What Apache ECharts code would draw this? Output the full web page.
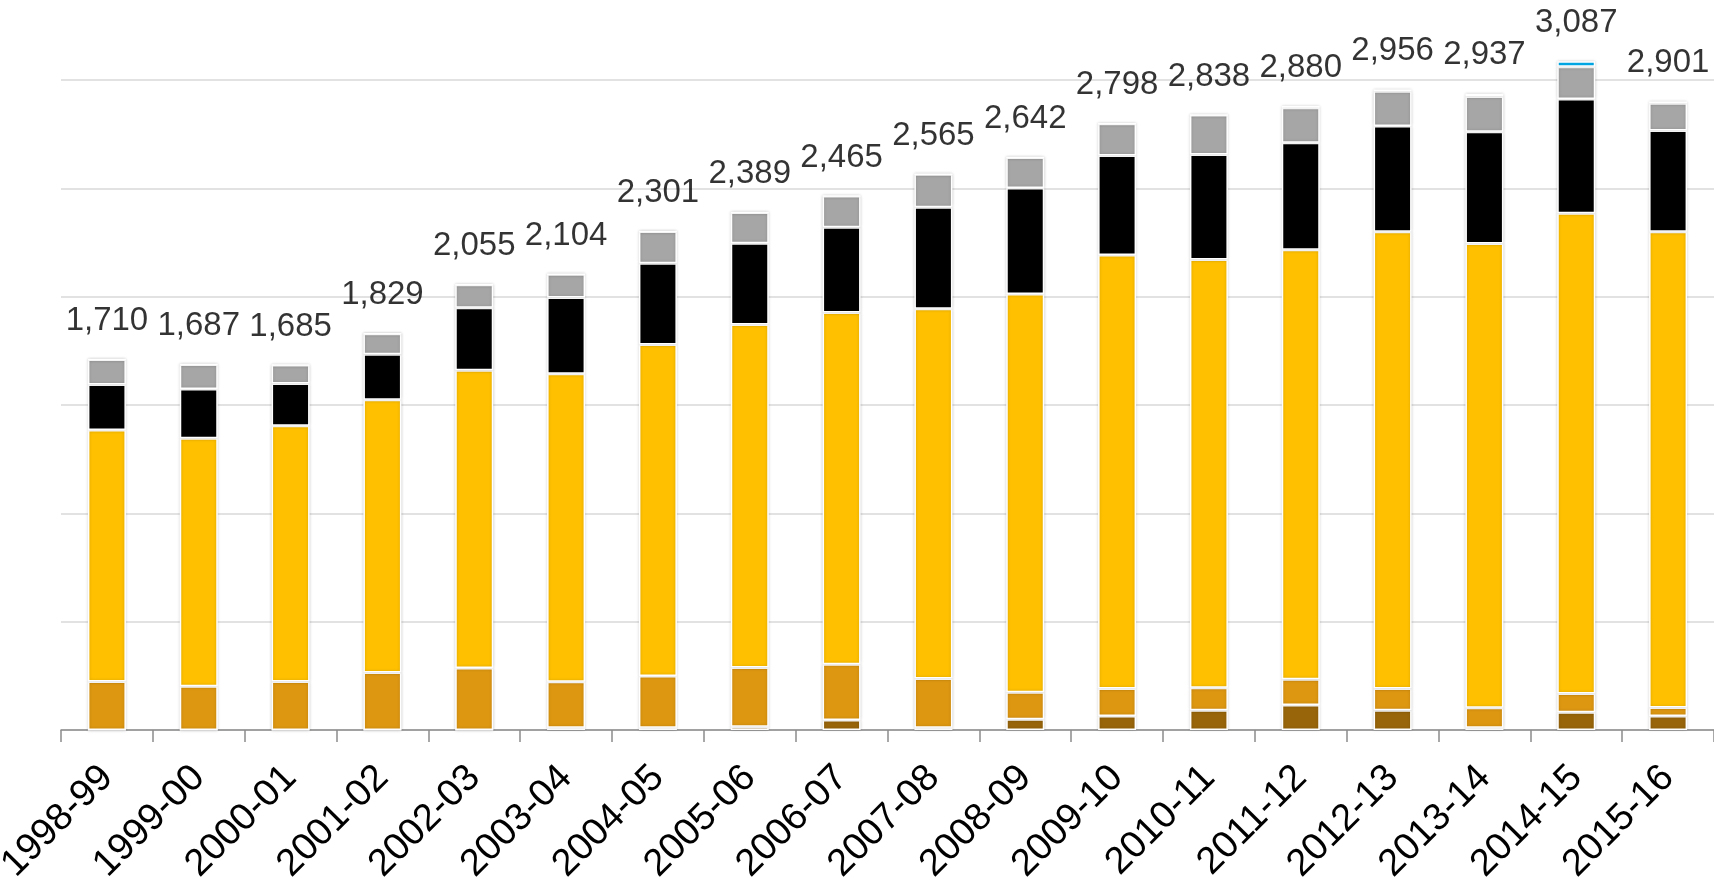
<!DOCTYPE html>
<html>
<head>
<meta charset="utf-8">
<title>Stacked totals by year</title>
<script src="https://cdn.jsdelivr.net/npm/echarts@6/dist/echarts.min.js"></script>
<style>
  html, body { margin: 0; padding: 0; background: #ffffff; }
  #chart { width: 1714px; height: 880px; }
</style>
</head>
<body>
<div id="chart"></div>
<script>
// Financial years on the category axis
const years = ['1998-99', '1999-00', '2000-01', '2001-02', '2002-03', '2003-04',
  '2004-05', '2005-06', '2006-07', '2007-08', '2008-09', '2009-10',
  '2010-11', '2011-12', '2012-13', '2013-14', '2014-15', '2015-16'];

// Stack components, bottom to top
const brownVals  = [0, 0, 0, 0, 0, 10, 10, 15, 46, 10, 50, 65, 91, 115, 91, 10, 82, 65];
const orangeVals = [224, 202, 224, 265, 286, 213, 239, 273, 258, 228, 124, 126, 104, 119, 100, 93, 87, 39];
const goldVals   = [1161, 1144, 1180, 1259, 1374, 1421, 1530, 1584, 1623, 1706, 1838, 2001, 1977, 1983, 2109, 2142, 2216, 2196];
const blackVals  = [210, 228, 195, 210, 289, 352, 375, 375, 393, 469, 490, 460, 484, 493, 488, 516, 527, 467];
const grayVals   = [115, 113, 86, 95, 106, 108, 147, 142, 145, 152, 140, 146, 182, 162, 160, 163, 149, 126];
const blueVals   = [0, 0, 0, 0, 0, 0, 0, 0, 0, 0, 0, 0, 0, 8, 8, 13, 26, 8];

// Year totals shown above each column
const totals = [1710, 1687, 1685, 1829, 2055, 2104, 2301, 2389, 2465, 2565, 2642, 2798, 2838, 2880, 2956, 2937, 3087, 2901];

const chart = echarts.init(document.getElementById('chart'), null, { renderer: 'canvas' });

function stackSeries(name, values, color) {
  return {
    name: name,
    type: 'bar',
    stack: 'total',
    barWidth: 38,
    clip: false,
    data: values,
    itemStyle: {
      color: color,
      borderColor: '#ffffff',
      borderWidth: 1.5,
      shadowBlur: 3,
      shadowColor: 'rgba(0,0,0,0.18)'
    }
  };
}

const fontFamily = '"Liberation Sans", Arial, sans-serif';

chart.setOption({
  animation: false,
  backgroundColor: '#ffffff',
  grid: { left: 61, right: 0, top: 80, bottom: 150, containLabel: false, outerBoundsMode: 'none' },
  xAxis: {
    type: 'category',
    data: years,
    boundaryGap: true,
    axisLine: { show: true, lineStyle: { color: '#8c8c8c', width: 1.5 } },
    axisTick: { show: true, length: 12, lineStyle: { color: '#8c8c8c', width: 1.5 } },
    axisLabel: {
      interval: 0,
      rotate: 45,
      margin: 42,
      align: 'right',
      verticalAlign: 'middle',
      fontSize: 38,
      color: '#000000',
      fontFamily: fontFamily
    }
  },
  yAxis: {
    type: 'value',
    min: 0,
    max: 3000,
    interval: 500,
    axisLine: { show: false },
    axisTick: { show: false },
    axisLabel: { show: false },
    splitLine: { show: true, lineStyle: { color: '#d9d9d9', width: 1.5 } }
  },
  series: [
    stackSeries('brown', brownVals, '#98650a'),
    stackSeries('orange', orangeVals, '#dd9711'),
    stackSeries('gold', goldVals, '#ffc000'),
    stackSeries('black', blackVals, '#000000'),
    stackSeries('gray', grayVals, '#a6a6a6'),
    stackSeries('blue', blueVals, '#00b0f0'),
    {
      name: 'total',
      type: 'scatter',
      data: totals,
      symbolSize: 0,
      clip: false,
      z: 10,
      label: {
        show: true,
        position: 'top',
        distance: 22,
        fontSize: 33,
        color: '#000000',
        fontFamily: fontFamily,
        formatter: function (p) { return p.value.toLocaleString('en-US'); }
      }
    }
  ]
});
</script>
</body>
</html>
